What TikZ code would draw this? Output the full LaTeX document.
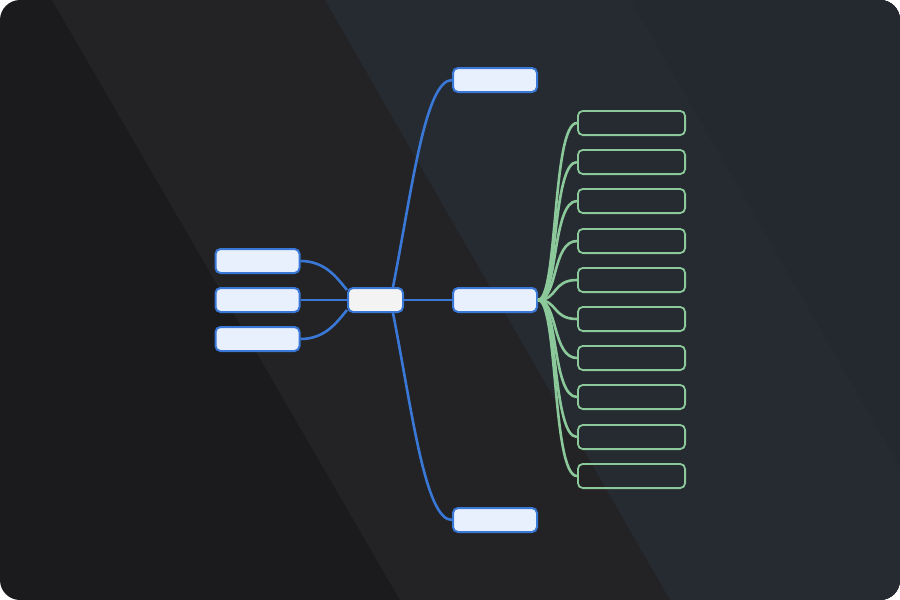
\documentclass[tikz,border=0pt]{standalone}
\usetikzlibrary{calc}
\definecolor{bandA}{HTML}{1B1B1D}
\definecolor{bandB}{HTML}{232325}
\definecolor{bandC}{HTML}{262A31}
\definecolor{bandD}{HTML}{23292F}
\definecolor{nodeblue}{HTML}{3A78D8}
\definecolor{nodefill}{HTML}{E8F0FE}
\definecolor{centerfill}{HTML}{F3F3F3}
\definecolor{leafgreen}{HTML}{8BC99B}
\tikzset{
  bluebox/.style={draw=nodeblue, fill=nodefill, line width=2pt, rounded corners=5pt,
    minimum width=84pt, minimum height=24pt, inner sep=0pt},
  centerbox/.style={bluebox, fill=centerfill, minimum width=55pt},
  greenbox/.style={draw=leafgreen, line width=1.8pt, rounded corners=5pt,
    minimum width=107.2pt, minimum height=24.2pt, inner sep=0pt},
  blueline/.style={draw=nodeblue, line width=2.6pt},
  greenline/.style={draw=leafgreen, line width=2.6pt}
}
\begin{document}
\begin{tikzpicture}[x=1pt,y=-1pt]
\useasboundingbox (0,0) rectangle (900,600);
\fill[white] (0,0) rectangle (900,600);
\begin{scope}
\clip[rounded corners=20pt] (0,0) rectangle (900,600);
\fill[bandA] (0,0) rectangle (900,600);
\fill[bandB] (52,0) -- (900,0) -- (900,600) -- (400,600) -- cycle;
\fill[bandC] (325,0) -- (900,0) -- (900,600) -- (670,600) -- cycle;
\fill[bandD] (631,0) -- (900,0) -- (900,467) -- cycle;
\end{scope}

% nodes
\node[centerbox] (c) at (375.5,300) {};
\node[bluebox] (l1) at (257.5,261) {};
\node[bluebox] (l2) at (257.5,300) {};
\node[bluebox] (l3) at (257.5,339) {};
\node[bluebox] (t) at (495,80) {};
\node[bluebox] (m) at (495,300) {};
\node[bluebox] (b) at (495,520) {};
\foreach \i/\yy in {1/123,2/162,3/201,4/241,5/280,6/319,7/358,8/397,9/437,10/476}
  \node[greenbox] (g\i) at (631.5,\yy) {};

% blue connectors
\draw[blueline] (c.east) -- (m.west);
\draw[blueline] (l2.east) -- (c.west);
\draw[blueline] (l1.east) .. controls +(25,0) and +(-10,-12) .. ([yshift=10pt]c.west);
\draw[blueline] (l3.east) .. controls +(25,0) and +(-10,12) .. ([yshift=-10pt]c.west);
\draw[blueline] ([xshift=-11pt]c.north east) .. controls +(19,-97) and +(-27,0) .. (t.west);
\draw[blueline] ([xshift=-11pt]c.south east) .. controls +(19,97) and +(-27,0) .. (b.west);

% green connectors
\foreach \i in {1,...,10}
  \draw[greenline] (m.east) .. controls +(20,0) and +(-25,0) .. (g\i.west);
\end{tikzpicture}
\end{document}
